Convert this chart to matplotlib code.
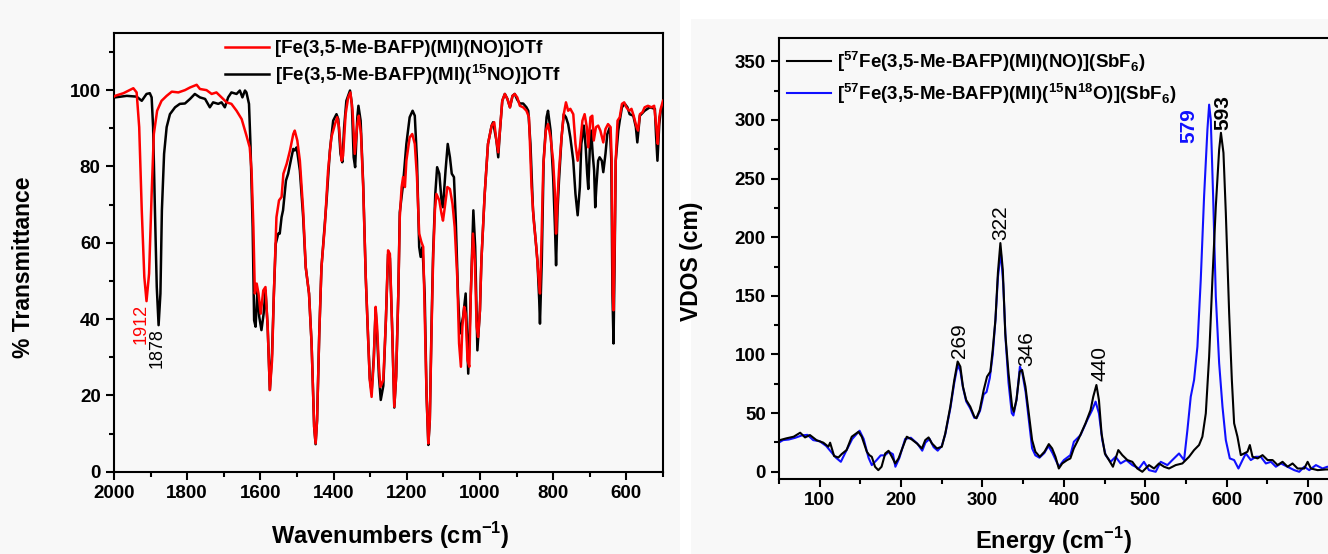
import matplotlib
matplotlib.use("Agg")
from matplotlib import pyplot as plt
from matplotlib.ticker import MultipleLocator
from matplotlib.patches import Rectangle

plt.rcParams['font.family'] = ['Liberation Sans', 'DejaVu Sans']
plt.rcParams['mathtext.fontset'] = 'custom'
plt.rcParams['mathtext.rm'] = 'Liberation Sans'
plt.rcParams['mathtext.bf'] = 'Liberation Sans:bold'

# ---- IR spectra (wavenumber, % transmittance) ----
ir_wn_no = [2000, 1997, 1974, 1947, 1938, 1931, 1924, 1917, 1911, 1904, 1897, 1891, 1882, 1870, 1856,
            1842, 1824, 1806, 1792, 1774, 1765, 1747, 1733, 1720, 1706, 1692, 1679, 1665, 1651, 1638,
            1629, 1624, 1619, 1615, 1610, 1605, 1599, 1592, 1586, 1580, 1574, 1568, 1563, 1556, 1549,
            1542, 1537, 1528, 1519, 1510, 1506, 1499, 1492, 1483, 1476, 1467, 1460, 1453, 1449, 1445,
            1439, 1433, 1424, 1415, 1406, 1396, 1390, 1385, 1378, 1374, 1367, 1360, 1354, 1348, 1342,
            1335, 1331, 1325, 1319, 1312, 1305, 1301, 1296, 1290, 1285, 1281, 1276, 1272, 1264, 1257,
            1251, 1246, 1240, 1234, 1229, 1223, 1219, 1214, 1210, 1205, 1201, 1192, 1185, 1178, 1172,
            1166, 1160, 1155, 1151, 1146, 1141, 1137, 1132, 1128, 1123, 1119, 1111, 1105, 1101, 1096,
            1089, 1082, 1075, 1069, 1062, 1057, 1052, 1048, 1043, 1039, 1034, 1029, 1025, 1019, 1014,
            1009, 1005, 1000, 996, 987, 978, 968, 961, 955, 950, 946, 939, 932, 925, 918,
            911, 905, 898, 891, 882, 873, 866, 859, 853, 846, 840, 836, 832, 827, 820,
            814, 807, 800, 795, 792, 788, 784, 777, 771, 765, 759, 753, 745, 739, 733,
            727, 720, 714, 708, 704, 698, 693, 689, 683, 677, 671, 663, 657, 650, 643,
            640, 637, 635, 632, 629, 624, 618, 612, 606, 600, 592, 586, 580, 572, 568,
            563, 556, 550, 541, 531, 524, 518, 514, 510, 506, 500]
ir_t_no = [98.3, 98.5, 99.2, 100.5, 99.4, 90.3, 68.5, 51, 44.7, 51.9, 72.8, 88.5, 94.6, 97.2, 98.5,
           99.6, 99.4, 100, 100.7, 101.4, 100.3, 100, 99, 99.4, 98.1, 96.8, 96.4, 94.6, 92.4, 88.1,
           85, 78.9, 64.1, 46.7, 49.3, 46.7, 41.4, 47.5, 48.4, 38, 21.4, 29.2, 46.7, 66.7, 71.1,
           72, 78.1, 80.7, 84.2, 88.5, 89.4, 86.8, 81.5, 68.5, 53.6, 46.7, 33.6, 11.8, 7.4, 13.5,
           36.2, 53.6, 64.1, 78.9, 87.6, 91.1, 92.9, 90.3, 81.5, 82.8, 93.7, 98.1, 99.4, 94.6, 83.3,
           91.1, 93.3, 88.5, 74.6, 51, 33.6, 24, 19.6, 29.2, 43.2, 38, 27.5, 22.2, 24, 39.7,
           58, 57.1, 38, 17, 24.9, 46.7, 66.7, 74.6, 77.2, 74.6, 81.5, 87.6, 88.5, 85.9, 77.2,
           62.4, 60.2, 58.9, 42.3, 20.5, 7.4, 13.5, 38, 55.4, 68.5, 72.8, 71.1, 67.6, 65.8, 69.3,
           74.6, 74.1, 70.2, 64.1, 51, 33.6, 27.5, 38, 43.2, 41.4, 29.2, 27.5, 46.7, 62.4, 55.4,
           38, 35.3, 42.3, 55.4, 72.8, 85.9, 90.7, 91.6, 86.8, 83.7, 88.5, 97.2, 99, 97.7, 95.5,
           98.5, 99, 98.1, 95.9, 95.5, 94.6, 92.9, 74.6, 65.8, 58.9, 51, 46.7, 59.7, 79.8, 89.4,
           91.1, 87.6, 81.5, 72.8, 62.4, 71.1, 78.9, 87.6, 93.7, 96.8, 94.6, 95.1, 93.7, 85.9, 81.5,
           85, 92, 93.7, 90.3, 85, 92.9, 93.3, 86.8, 90.3, 90.7, 89.4, 86.3, 89.8, 91.1, 90.3,
           81.5, 46.7, 42.3, 59.7, 81.5, 92, 92.9, 96.4, 96.8, 95.5, 94.6, 95.1, 93.3, 90.3, 89.4,
           93.7, 94.2, 95.5, 95.9, 95.5, 95.9, 90.3, 85.9, 92.9, 95.1, 97.2]

ir_wn_15no = [2000, 1997, 1965, 1938, 1924, 1911, 1902, 1897, 1893, 1888, 1883, 1878, 1873, 1869, 1863,
              1856, 1847, 1833, 1820, 1806, 1792, 1779, 1765, 1751, 1738, 1729, 1715, 1706, 1697, 1688,
              1679, 1665, 1656, 1649, 1642, 1638, 1631, 1627, 1621, 1617, 1613, 1608, 1603, 1597, 1591,
              1586, 1580, 1574, 1568, 1563, 1558, 1551, 1547, 1542, 1538, 1530, 1524, 1515, 1510, 1506,
              1501, 1497, 1492, 1483, 1476, 1467, 1460, 1453, 1449, 1445, 1439, 1433, 1419, 1410, 1401,
              1392, 1387, 1381, 1376, 1371, 1365, 1355, 1350, 1345, 1341, 1335, 1332, 1326, 1319, 1312,
              1305, 1301, 1296, 1290, 1285, 1281, 1276, 1271, 1264, 1257, 1251, 1246, 1240, 1234, 1229,
              1223, 1219, 1214, 1210, 1201, 1192, 1184, 1178, 1172, 1166, 1162, 1157, 1151, 1146, 1141,
              1137, 1132, 1128, 1122, 1117, 1111, 1105, 1101, 1094, 1088, 1082, 1077, 1071, 1066, 1060,
              1055, 1046, 1039, 1032, 1026, 1018, 1013, 1007, 1000, 996, 987, 978, 968, 964, 955,
              950, 946, 939, 932, 925, 918, 911, 905, 898, 891, 882, 873, 868, 862, 855,
              847, 843, 838, 836, 831, 826, 818, 814, 807, 800, 795, 792, 788, 784, 777,
              771, 765, 759, 753, 745, 739, 733, 727, 723, 716, 711, 707, 704, 700, 696,
              692, 688, 685, 682, 677, 673, 667, 663, 657, 652, 645, 641, 638, 635, 632,
              629, 622, 618, 612, 604, 597, 591, 581, 574, 570, 563, 550, 536, 522, 519,
              515, 510, 506, 500]
ir_t_15no = [98, 98.1, 98.5, 98.3, 97.2, 99, 99.2, 98.1, 90.3, 68.5, 48.4, 38.4, 46.7, 68.5, 83.3,
             90.3, 93.7, 95.5, 96.4, 96.5, 97.7, 99, 98.1, 97.7, 95.5, 96.8, 96.4, 96.8, 95.5, 98.1,
             99.4, 99, 99.9, 98.1, 99.9, 99.4, 96.4, 85.9, 64.1, 39.7, 38, 47.5, 40.6, 37.1, 41.4,
             47.5, 38, 21.4, 31, 46.7, 59.7, 62.4, 62.4, 66.7, 68.5, 76.3, 78.1, 82.4, 84.6, 84.2,
             85, 82.4, 78.9, 66.7, 53.6, 46.7, 33.6, 11.8, 7.2, 13.5, 36.2, 53.6, 71.1, 84.2, 92,
             93.7, 92.4, 83.3, 81.1, 90.3, 97.2, 99.9, 96.4, 82.4, 79.8, 92.9, 95.9, 92, 75.4, 51,
             33.6, 24.5, 21, 30, 42.5, 36, 25, 18.8, 22.5, 39.7, 57, 56, 38, 16.8, 24.9,
             46.7, 68, 72, 75.4, 85.9, 92.9, 94.6, 93.3, 81.5, 58.9, 56.3, 58.9, 46.7, 20.5, 7,
             13.5, 39.7, 57.1, 72.8, 79.8, 78.1, 71.1, 69.3, 78.9, 85.9, 82.4, 78.1, 77.2, 65.8, 46.7,
             36.2, 40.6, 46.7, 25.7, 43.2, 68.5, 58.9, 31.8, 42.3, 55.4, 72.8, 85.9, 90.7, 91.6, 86.8,
             82.4, 88.5, 97.2, 99, 97.7, 95.5, 98.5, 99, 97.5, 96.5, 96.5, 95.5, 94.6, 85.9, 68.5,
             59.7, 55.4, 44.9, 38.8, 55.4, 81.5, 92.9, 94.6, 89.4, 77.2, 64.1, 54.1, 68.5, 76.3, 87.6,
             93.7, 92.9, 91.1, 87.6, 81.5, 72.8, 67.2, 74.6, 85.9, 90.7, 85, 78.1, 74.1, 84.2, 89.4,
             83.3, 78.9, 69.3, 74.6, 81.5, 82.4, 81.5, 78.5, 83.3, 88.5, 90.3, 81.5, 46.7, 33.6, 55.4,
             81.5, 89.4, 92, 95.5, 96.4, 95.5, 93.7, 93.3, 90.3, 86.3, 93.3, 94.6, 95.5, 95.1, 88.5,
             81.5, 91.1, 94.6, 96.4]

# ---- NRVS partial VDOS (energy, VDOS) ----
nrvs_e_no = [50, 51, 59, 68, 76, 82, 88, 96, 104.5, 110.7, 112.8, 117.7, 123, 127, 133,
             139.4, 147.6, 151.7, 157.9, 161, 164, 168, 172, 176, 180.5, 184.6, 188.7, 192.8, 196.9, 201,
             207, 213, 219.4, 225.6, 229.7, 233.8, 237.9, 244, 250, 254.3, 260.5, 265.4, 269.5, 272.8, 276,
             280, 285, 290, 292.5, 296.6, 301.5, 305.6, 309.7, 312.6, 315.9, 319, 322, 325, 328, 332,
             336.4, 338.4, 341.7, 345.8, 348.7, 352.8, 356.9, 361, 365, 370.4, 376.2, 381.5, 385.6, 389.7, 393.8,
             398, 404, 408, 412.2, 418.4, 426.6, 432.8, 436.1, 440, 443.1, 446.3, 450.4, 455.4, 460.3, 466.9,
             471.8, 478, 484.1, 490.2, 496.4, 504.6, 510.8, 516.9, 523.1, 529.2, 537.4, 545.6, 553.8, 560, 566.1,
             570.2, 574.4, 578.5, 582.5, 586.7, 590.8, 593, 596.1, 599, 603.1, 606.4, 609.2, 613.3, 617.4, 621.5,
             625.6, 628.5, 631.8, 638, 644.1, 650.3, 656.4, 662.6, 668.7, 674.9, 681, 687.2, 695.4, 699.5, 703.6,
             711.8, 722, 735, 745]
nrvs_v_no = [26, 27, 28.5, 29.9, 33.3, 29.3, 31.3, 27, 24.8, 21.4, 24.8, 13.4, 12.2, 15.1, 18.5,
             29.9, 34.1, 29.9, 17.1, 14.2, 12.8, 4.3, 1.4, 4.3, 15.6, 17.9, 12.8, 7.1, 11.4, 19.1,
             29.9, 27.6, 24.2, 19.9, 27, 29.3, 24.2, 19.9, 21.3, 32.7, 55.5, 78.3, 94, 89.7, 72.6,
             61.2, 55.5, 47, 45.6, 52.7, 69.7, 81.1, 85.4, 104, 129.5, 170, 195, 172, 118, 84,
             55.5, 51.2, 61.2, 85.4, 86.8, 72.6, 49.8, 27, 17.1, 12.8, 17.1, 23.6, 19.9, 12.8, 2.8,
             7.1, 10, 11.4, 19.9, 28.5, 41.3, 52.6, 64, 74, 61.2, 32.7, 15.6, 10, 4.3, 18.5,
             14.2, 10, 8.5, 2.8, 0, 5.7, 2.8, 7.1, 4.3, 2.8, 5.7, 7.1, 12.8, 18.5, 22.8,
             29.9, 49.8, 98.2, 163.7, 226.3, 274.7, 289, 271.9, 220.6, 135.2, 78.3, 41.3, 29.9, 14.2, 15.6,
             17.1, 22.8, 12.8, 11.4, 14.2, 10, 10, 5.7, 8.5, 4.3, 7.1, 2.8, 2.8, 8.5, 2.8,
             1.4, 2, 2, 2]

nrvs_e_15n18o = [50, 55, 62, 70, 78, 85, 92, 100, 108, 114, 120, 126, 132, 140, 149,
                 154, 160, 164, 170, 175, 180, 185, 190, 193, 198, 205, 212, 220, 226, 230,
                 235, 240, 245, 250, 254.3, 260.5, 265.4, 269.5, 272.8, 276, 280, 285, 290, 293, 297,
                 301.5, 305, 309, 312.6, 316, 319, 322.5, 325.5, 328.5, 332, 336, 338, 342, 346, 349,
                 353, 357, 361, 365, 370, 376, 381, 386, 390, 394, 400, 408, 412.3, 420.5, 428.7,
                 434.8, 439, 443.1, 447.2, 451.3, 457.4, 463.6, 469.7, 476.7, 484.1, 492.3, 498.4, 504.6, 512.8, 519,
                 527.2, 533.3, 541.5, 547.7, 551.8, 555.9, 560, 564.1, 568.2, 572.3, 576.4, 578.5, 580.5, 583.4, 586.7,
                 590.8, 594.9, 599, 603.9, 609.2, 614.5, 619.5, 623.6, 629.7, 635.9, 642, 648.2, 654.4, 660.5, 666.7,
                 674.9, 683.1, 689.2, 695.4, 701.5, 709.7, 717.9, 723.7, 735, 745]
nrvs_v_15n18o = [25, 27, 27.5, 29, 31, 31.5, 27, 26, 22, 17, 12, 8.5, 17, 28, 35,
                 28, 12, 5.7, 10, 14, 14, 17, 15, 4.3, 12, 28, 29, 24, 18, 25,
                 28, 21, 18, 22, 32, 54, 76, 91, 86, 72, 60, 54, 46, 46, 52,
                 66, 68, 80, 100, 130, 166, 188, 160, 112, 76, 50, 48, 62, 89.7, 84,
                 68, 44, 20, 14, 12, 16, 22, 16, 10, 4.3, 10, 14.2, 25.6, 31.3, 44.1,
                 52.6, 59.8, 49.8, 27, 14.2, 8.5, 12.8, 7.1, 10, 5.7, 2.8, 8.5, 1.4, 0, 8.5,
                 5.7, 10, 15.6, 10, 35.6, 64, 78.3, 106.7, 163.7, 234.9, 291.8, 313, 300.3, 234.9, 149.4,
                 92.5, 55.5, 27, 11.4, 10, 2.8, 10, 15.6, 10, 12.8, 12.8, 7.1, 8.5, 4.3, 7.1,
                 4.3, 1.4, 0, 4.3, 1.4, 5.7, 2.8, 4.3, 3, 3]

ir_peaks = [(1912, 'red'), (1878, 'black')]
nrvs_peaks = [269, 322, 346, 440]
nrvs_no_peak = 593
nrvs_15n18o_peak = 579

fig = plt.figure(figsize=(13.28, 5.54), dpi=100)
# faint grey paper behind each panel
fig.patches.append(Rectangle((0, 0), 0.512, 1.0, transform=fig.transFigure,
                             facecolor='#f8f8f8', edgecolor='none', zorder=-10))
fig.patches.append(Rectangle((0.52, 0), 0.48, 0.965, transform=fig.transFigure,
                             facecolor='#f8f8f8', edgecolor='none', zorder=-10))

# ---------------- left: IR ----------------
ax1 = fig.add_axes([0.0858, 0.1486, 0.4134, 0.792])
ax1.set_facecolor('none')
ax1.plot(ir_wn_no, ir_t_no, '-', color='#ff0000', lw=1.8,
         label=r'[Fe(3,5-Me-BAFP)(MI)(NO)]OTf', zorder=3)
ax1.plot(ir_wn_15no, ir_t_15no, '-', color='black', lw=1.8,
         label=r'[Fe(3,5-Me-BAFP)(MI)($^{\mathbf{15}}$NO)]OTf', zorder=2)
ax1.set_xlim(2000, 500)
ax1.set_ylim(0, 115)
ax1.xaxis.set_major_locator(MultipleLocator(200))
ax1.xaxis.set_minor_locator(MultipleLocator(100))
ax1.yaxis.set_major_locator(MultipleLocator(20))
ax1.yaxis.set_minor_locator(MultipleLocator(10))

for wn, col in ir_peaks:
    t_min = min(t for w, t in zip(ir_wn_no if col == 'red' else ir_wn_15no,
                                  ir_t_no if col == 'red' else ir_t_15no) if abs(w - wn) <= 3)
    ax1.text(wn + (14 if col == 'red' else 4), t_min - 0.8, str(wn), color=col, rotation=90,
             ha='center', va='top', fontsize=13)

leg1 = ax1.legend(loc='upper left', bbox_to_anchor=(0.202, 0.983), frameon=False,
                  borderpad=0, borderaxespad=0, handlelength=2.35, handletextpad=0.3,
                  labelspacing=0.25, prop=dict(size=13.5, weight='bold'))

# ---------------- right: NRVS ----------------
ax2 = fig.add_axes([0.5866, 0.1357, 0.429, 0.7961])
ax2.set_facecolor('none')
ax2.plot(nrvs_e_no, nrvs_v_no, '-', color='black', lw=1.5, zorder=3,
         label=r'[$^{\mathbf{57}}$Fe(3,5-Me-BAFP)(MI)(NO)](SbF$_{\mathbf{6}}$)')
ax2.plot(nrvs_e_15n18o, nrvs_v_15n18o, '-', color='#1010ff', lw=1.5, zorder=2,
         label=r'[$^{\mathbf{57}}$Fe(3,5-Me-BAFP)(MI)($^{\mathbf{15}}$N$^{\mathbf{18}}$O)](SbF$_{\mathbf{6}}$)')
ax2.set_xlim(50, 750)
ax2.set_ylim(-6, 370)
ax2.xaxis.set_major_locator(MultipleLocator(100))
ax2.xaxis.set_minor_locator(MultipleLocator(50))
ax2.yaxis.set_major_locator(MultipleLocator(50))
ax2.yaxis.set_minor_locator(MultipleLocator(25))
ax2.spines['right'].set_visible(False)

label_dx = {269: 3, 322: 0, 346: 9, 440: 5}
for e in nrvs_peaks:
    v = max(vv for ee, vv in zip(nrvs_e_no, nrvs_v_no) if abs(ee - e) <= 4)
    ax2.text(e + label_dx[e], v + 3, str(e), rotation=90, ha='center', va='bottom',
             fontsize=15, color='black')
v = max(nrvs_v_15n18o)
ax2.text(nrvs_15n18o_peak - 25, v - 33, str(nrvs_15n18o_peak), rotation=90, ha='center',
         va='bottom', fontsize=15, fontweight='bold', color='#1010ff')
v = max(nrvs_v_no)
ax2.text(nrvs_no_peak + 3, v + 2, str(nrvs_no_peak), rotation=90, ha='center',
         va='bottom', fontsize=15, fontweight='bold', color='black')

leg2 = ax2.legend(loc='upper left', bbox_to_anchor=(0.014, 0.975), frameon=False,
                  borderpad=0, borderaxespad=0, handlelength=2.35, handletextpad=0.3,
                  labelspacing=0.4, prop=dict(size=13.5, weight='bold'))

for ax in (ax1, ax2):
    for sp in ax.spines.values():
        sp.set_linewidth(1.5)
    ax.tick_params(which='major', direction='out', length=6, width=1.5, labelsize=13.5)
    ax.tick_params(which='minor', direction='out', length=3.5, width=1.5)
    for lab in ax.get_xticklabels() + ax.get_yticklabels():
        lab.set_fontweight('bold')

fig.text(0.2937, 0.034, r'Wavenumbers (cm$^{\mathbf{-1}}$)', ha='center', va='center',
         fontsize=17, fontweight='bold')
fig.text(0.018, 0.518, '% Transmittance', ha='center', va='center', rotation=90,
         fontsize=16.5, fontweight='bold')
fig.text(0.7937, 0.025, r'Energy (cm$^{\mathbf{-1}}$)', ha='center', va='center',
         fontsize=17, fontweight='bold')
fig.text(0.521, 0.529, 'VDOS (cm)', ha='center', va='center', rotation=90,
         fontsize=16.5, fontweight='bold')

fig.savefig('out.png', dpi=100, facecolor='white')
